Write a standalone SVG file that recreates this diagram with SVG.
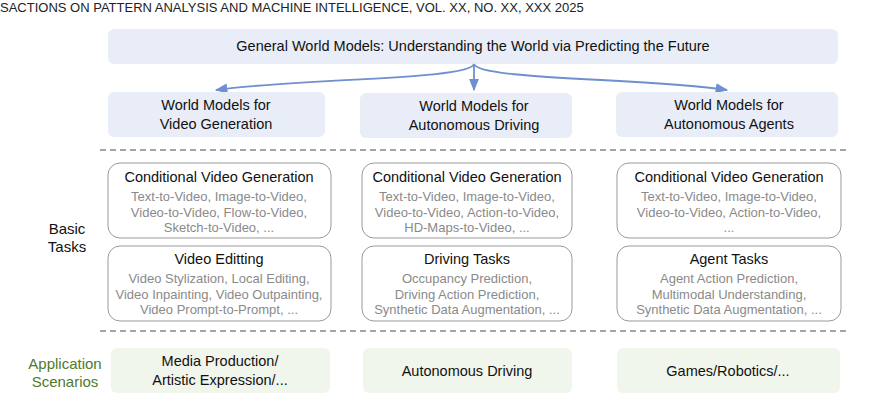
<svg xmlns="http://www.w3.org/2000/svg" width="870" height="420" viewBox="0 0 870 420">
<defs>
<marker id="ah" viewBox="0 0 10 10" refX="9" refY="5" markerWidth="7" markerHeight="7" orient="auto"><path d="M0,1 L10,5 L0,9 z" fill="#6f8fcf"/></marker>
<style>
text{font-family:"Liberation Sans",Arial,sans-serif;text-anchor:middle}
.blue{fill:#e8edf8}
.green{fill:#f1f6ec}
.task{fill:#fff;stroke:#999;stroke-width:1}
.t{font-size:14.5px;fill:#111}
.s{font-size:13px;fill:#8a8a8a}
.lab{font-size:15px;fill:#111}
.glab{font-size:15px;fill:#4e7a2c}
.dash{stroke:#888;stroke-width:1.5;stroke-dasharray:6,4}
.arr{fill:none;stroke:#6f8fcf;stroke-width:1.8}
</style>
</defs>
<rect width="870" height="420" fill="#fff"/>
<text x="0" y="12" style="text-anchor:start;font-size:13px;fill:#222">SACTIONS ON PATTERN ANALYSIS AND MACHINE INTELLIGENCE, VOL. XX, NO. XX, XXX 2025</text>
<g id="top"><rect class="blue" x="108" y="29" width="730" height="35" rx="6"/><text class="t" x="473" y="51">General World Models: Understanding the World via Predicting the Future</text></g>
<g id="connectors">
<path class="arr" d="M474,64 C470,80 300,78 216,90" marker-end="url(#ah)"/>
<path class="arr" d="M474,64 L474,90" marker-end="url(#ah)"/>
<path class="arr" d="M474,64 C478,80 650,78 727,90" marker-end="url(#ah)"/>
</g>
<g id="wm1"><rect class="blue" x="108" y="92" width="217" height="45" rx="6"/><text class="t" x="216" y="110">World Models for</text><text class="t" x="216" y="129">Video Generation</text></g>
<g id="wm2"><rect class="blue" x="360" y="93" width="212" height="45" rx="6"/><text class="t" x="474" y="111">World Models for</text><text class="t" x="474" y="130">Autonomous Driving</text></g>
<g id="wm3"><rect class="blue" x="616" y="92" width="222" height="45" rx="6"/><text class="t" x="729" y="110">World Models for</text><text class="t" x="729" y="129">Autonomous Agents</text></g>
<line class="dash" x1="100" y1="150" x2="848" y2="150"/>
<line class="dash" x1="100" y1="331" x2="848" y2="331"/>
<g id="lbl1"><text class="lab" x="67" y="234">Basic</text><text class="lab" x="67" y="252">Tasks</text></g>
<g id="lbl2"><text class="glab" x="65" y="369">Application</text><text class="glab" x="65" y="387">Scenarios</text></g>
<g id="c1"><rect class="task" x="108" y="163" width="223" height="75" rx="12"/><text class="t" x="219" y="182">Conditional Video Generation</text><text class="s" x="219" y="201">Text-to-Video, Image-to-Video,</text><text class="s" x="219" y="217">Video-to-Video, Flow-to-Video,</text><text class="s" x="219" y="232">Sketch-to-Video, ...</text></g>
<g id="e1"><rect class="task" x="108" y="246" width="223" height="75" rx="12"/><text class="t" x="219" y="264">Video Editting</text><text class="s" x="219" y="283">Video Stylization, Local Editing,</text><text class="s" x="219" y="299">Video Inpainting, Video Outpainting,</text><text class="s" x="219" y="314">Video Prompt-to-Prompt, ...</text></g>
<g id="c2"><rect class="task" x="362" y="163" width="210" height="75" rx="12"/><text class="t" x="467" y="182">Conditional Video Generation</text><text class="s" x="467" y="201">Text-to-Video, Image-to-Video,</text><text class="s" x="467" y="217">Video-to-Video, Action-to-Video,</text><text class="s" x="467" y="232">HD-Maps-to-Video, ...</text></g>
<g id="e2"><rect class="task" x="362" y="246" width="210" height="75" rx="12"/><text class="t" x="467" y="264">Driving Tasks</text><text class="s" x="467" y="283">Occupancy Prediction,</text><text class="s" x="467" y="299">Driving Action Prediction,</text><text class="s" x="467" y="314">Synthetic Data Augmentation, ...</text></g>
<g id="c3"><rect class="task" x="617" y="163" width="224" height="75" rx="12"/><text class="t" x="729" y="182">Conditional Video Generation</text><text class="s" x="729" y="201">Text-to-Video, Image-to-Video,</text><text class="s" x="729" y="217">Video-to-Video, Action-to-Video,</text><text class="s" x="729" y="232">...</text></g>
<g id="e3"><rect class="task" x="617" y="246" width="224" height="75" rx="12"/><text class="t" x="729" y="264">Agent Tasks</text><text class="s" x="729" y="283">Agent Action Prediction,</text><text class="s" x="729" y="299">Multimodal Understanding,</text><text class="s" x="729" y="314">Synthetic Data Augmentation, ...</text></g>
<g id="a1"><rect class="green" x="111" y="348" width="219" height="45" rx="6"/><text class="t" x="220" y="366">Media Production/</text><text class="t" x="220" y="385">Artistic Expression/...</text></g>
<g id="a2"><rect class="green" x="363" y="348" width="209" height="45" rx="6"/><text class="t" x="467" y="376">Autonomous Driving</text></g>
<g id="a3"><rect class="green" x="617" y="348" width="223" height="45" rx="6"/><text class="t" x="728" y="376">Games/Robotics/...</text></g>
</svg>
